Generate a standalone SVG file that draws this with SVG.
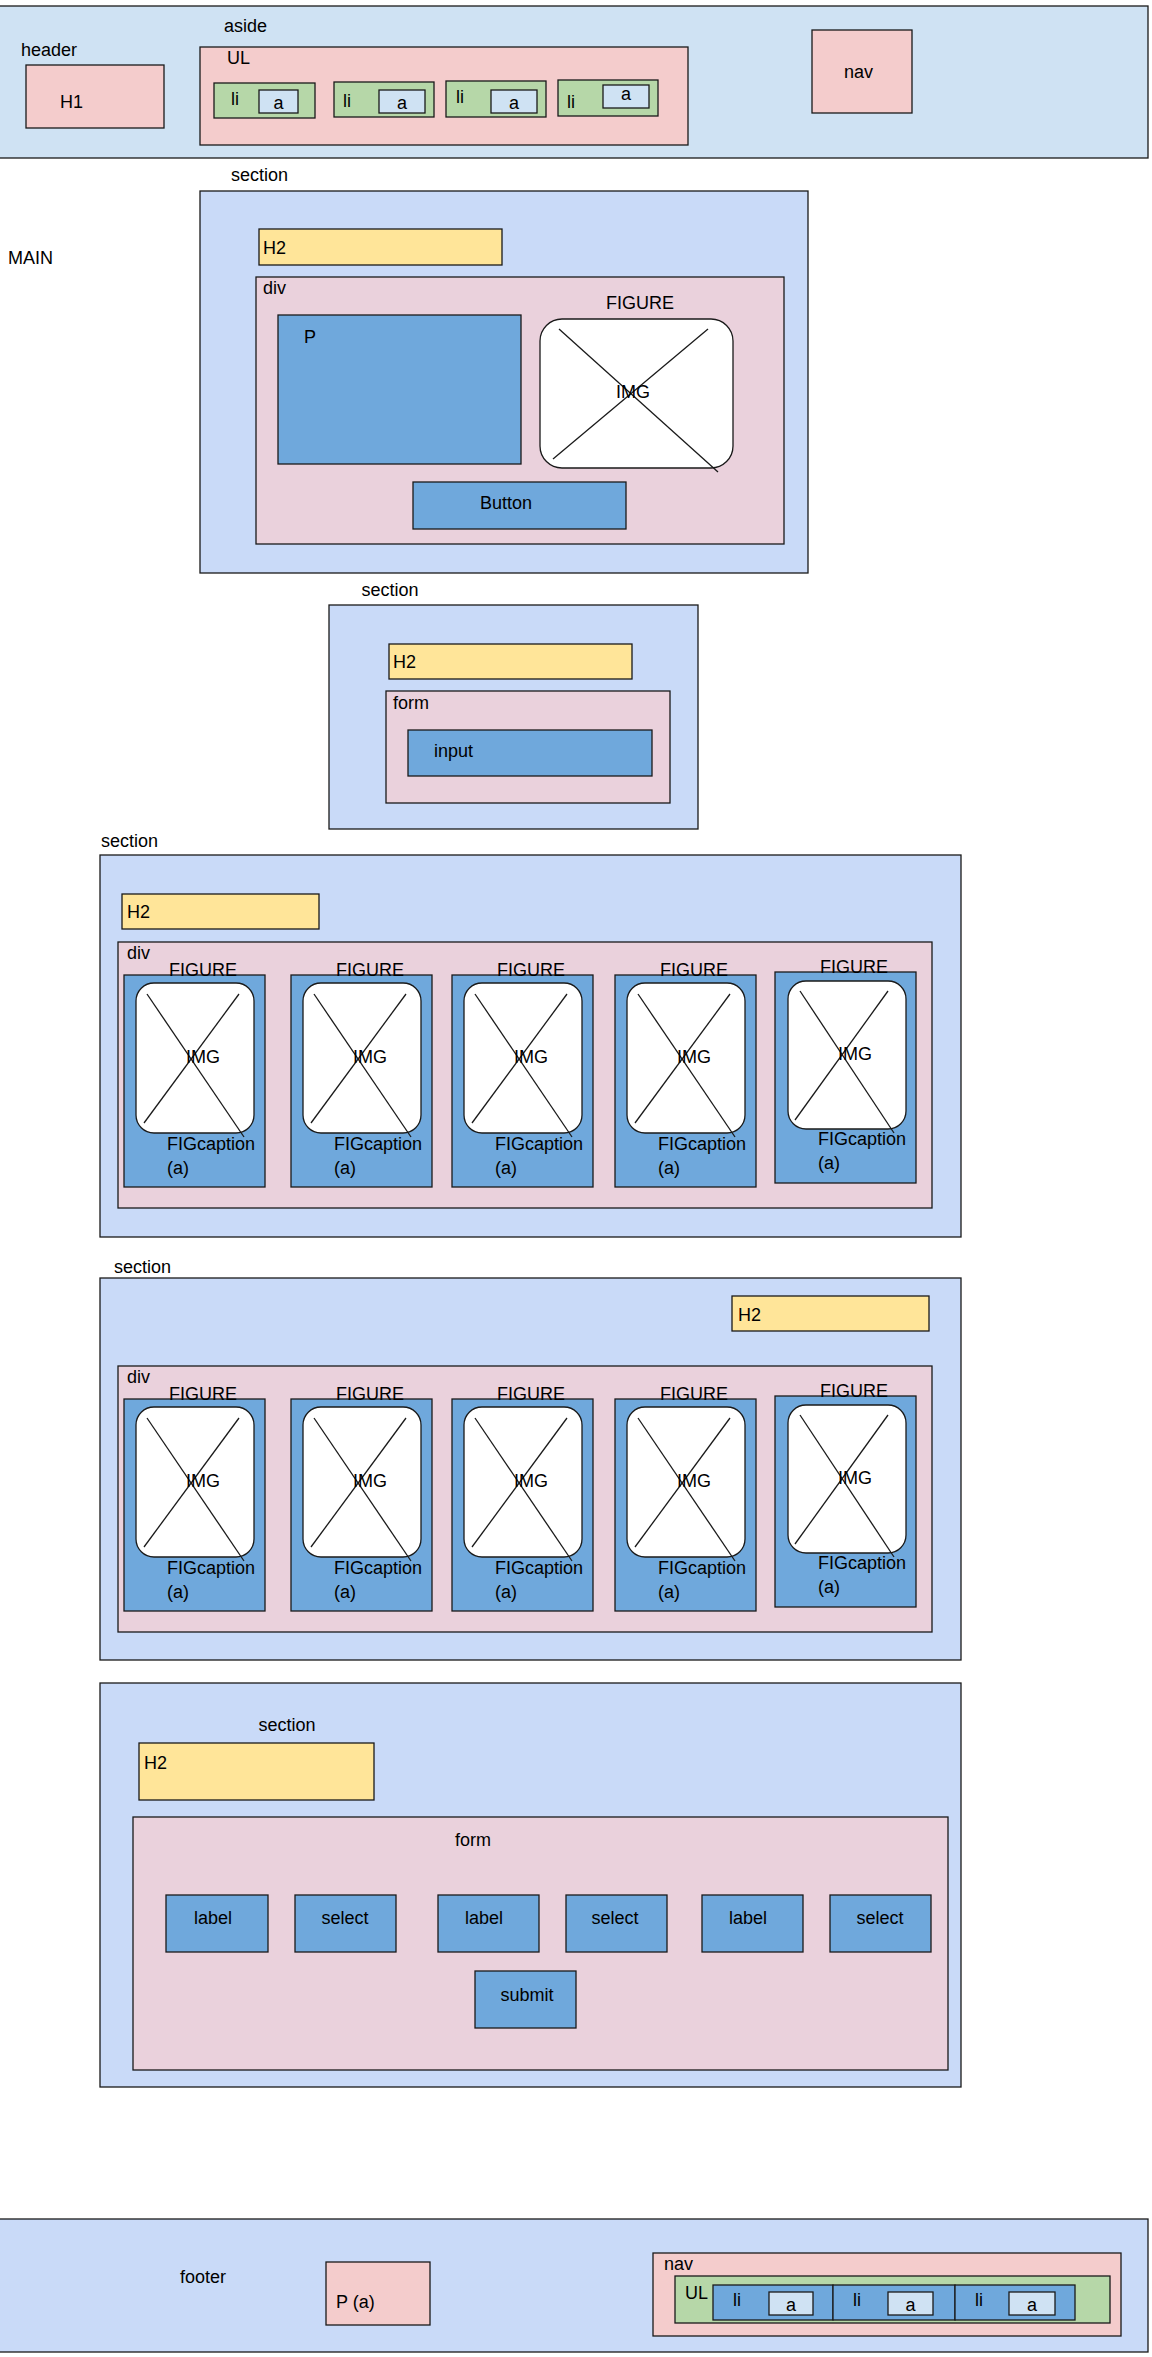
<svg xmlns="http://www.w3.org/2000/svg" width="1152" height="2357" viewBox="0 0 1152 2357">
<style>
rect, line { stroke:#1a1a1a; stroke-width:1.3; }
.hdr { fill:#cfe2f3; }
.sec { fill:#c9daf8; }
.pink { fill:#f4cccc; }
.mauve { fill:#ead1dc; }
.yel { fill:#ffe599; }
.blue { fill:#6fa8dc; }
.green { fill:#b6d7a8; }
.lb { fill:#cfe2f3; }
.white { fill:#ffffff; }
text { font-family:"Liberation Sans", Arial, sans-serif; font-size:18px; fill:#000; }
.c { text-anchor:middle; }
</style>

<!-- HEADER -->
<g id="header">
  <rect class="hdr" x="-1" y="6" width="1149" height="152"/>
  <text x="21" y="56">header</text>
  <g id="h1">
    <rect class="pink" x="26" y="65" width="138" height="63"/>
    <text x="60" y="108">H1</text>
  </g>
  <g id="aside">
    <text x="224" y="32">aside</text>
    <g id="aside-ul">
      <rect class="pink" x="200" y="47" width="488" height="98"/>
      <text x="227" y="64">UL</text>
      <g id="aside-li1">
        <rect class="green" x="214" y="83" width="101" height="35"/>
        <text x="231" y="105">li</text>
        <rect class="lb" x="259" y="90" width="39" height="23"/>
        <text class="c" x="278.5" y="109">a</text>
      </g>
      <g id="aside-li2">
        <rect class="green" x="334" y="82" width="100" height="35"/>
        <text x="343" y="107">li</text>
        <rect class="lb" x="379" y="90" width="46" height="23"/>
        <text class="c" x="402" y="109">a</text>
      </g>
      <g id="aside-li3">
        <rect class="green" x="446" y="81" width="100" height="36"/>
        <text x="456" y="103">li</text>
        <rect class="lb" x="491" y="90" width="46" height="23"/>
        <text class="c" x="514" y="109">a</text>
      </g>
      <g id="aside-li4">
        <rect class="green" x="558" y="80" width="100" height="36"/>
        <text x="567" y="108">li</text>
        <rect class="lb" x="603" y="85" width="46" height="23"/>
        <text class="c" x="626" y="100">a</text>
      </g>
    </g>
  </g>
  <g id="header-nav">
    <rect class="pink" x="812" y="30" width="100" height="83"/>
    <text x="844" y="78">nav</text>
  </g>
</g>

<!-- MAIN -->
<g id="main">
  <text x="8" y="264">MAIN</text>
</g>

<!-- SECTION 1 -->
<g id="section1">
  <text x="231" y="181">section</text>
  <rect class="sec" x="200" y="191" width="608" height="382"/>
  <g id="s1-h2">
    <rect class="yel" x="259" y="229" width="243" height="36"/>
    <text x="263" y="254">H2</text>
  </g>
  <g id="s1-div">
    <rect class="mauve" x="256" y="277" width="528" height="267"/>
    <text x="263" y="294">div</text>
    <g id="s1-p">
      <rect class="blue" x="278" y="315" width="243" height="149"/>
      <text x="304" y="343">P</text>
    </g>
    <g id="s1-figure">
      <text class="c" x="640" y="309">FIGURE</text>
      <rect class="white" x="540" y="319" width="193" height="149" rx="22"/>
      <line x1="559" y1="329" x2="718" y2="472"/>
      <line x1="708" y1="329" x2="553" y2="459"/>
      <text class="c" x="633" y="398">IMG</text>
    </g>
    <g id="s1-button">
      <rect class="blue" x="413" y="482" width="213" height="47"/>
      <text class="c" x="506" y="509">Button</text>
    </g>
  </g>
</g>

<!-- SECTION 2 -->
<g id="section2">
  <text class="c" x="390" y="596">section</text>
  <rect class="sec" x="329" y="605" width="369" height="224"/>
  <g id="s2-h2">
    <rect class="yel" x="389" y="644" width="243" height="35"/>
    <text x="393" y="668">H2</text>
  </g>
  <g id="s2-form">
    <rect class="mauve" x="386" y="691" width="284" height="112"/>
    <text x="393" y="709">form</text>
    <g id="s2-input">
      <rect class="blue" x="408" y="730" width="244" height="46"/>
      <text x="434" y="757">input</text>
    </g>
  </g>
</g>

<!-- SECTION 3 -->
<g id="section3">
  <text x="101" y="847">section</text>
  <rect class="sec" x="100" y="855" width="861" height="382"/>
  <g id="s3-h2">
    <rect class="yel" x="122" y="894" width="197" height="35"/>
    <text x="127" y="918">H2</text>
  </g>
  <g id="s3-div">
    <rect class="mauve" x="118" y="942" width="814" height="266"/>
    <text x="127" y="959">div</text>
    <g id="s3-fig1" transform="translate(124,975)">
      <rect class="blue" width="141" height="212"/>
      <text class="c" x="79" y="1">FIGURE</text>
      <rect class="white" x="12" y="8" width="118" height="150" rx="18"/>
      <line x1="23" y1="19" x2="120" y2="162"/>
      <line x1="115" y1="19" x2="20" y2="148"/>
      <text class="c" x="79" y="88">IMG</text>
      <text x="43" y="175">FIGcaption</text>
      <text x="43" y="199">(a)</text>
    </g>
    <g id="s3-fig2" transform="translate(291,975)">
      <rect class="blue" width="141" height="212"/>
      <text class="c" x="79" y="1">FIGURE</text>
      <rect class="white" x="12" y="8" width="118" height="150" rx="18"/>
      <line x1="23" y1="19" x2="120" y2="162"/>
      <line x1="115" y1="19" x2="20" y2="148"/>
      <text class="c" x="79" y="88">IMG</text>
      <text x="43" y="175">FIGcaption</text>
      <text x="43" y="199">(a)</text>
    </g>
    <g id="s3-fig3" transform="translate(452,975)">
      <rect class="blue" width="141" height="212"/>
      <text class="c" x="79" y="1">FIGURE</text>
      <rect class="white" x="12" y="8" width="118" height="150" rx="18"/>
      <line x1="23" y1="19" x2="120" y2="162"/>
      <line x1="115" y1="19" x2="20" y2="148"/>
      <text class="c" x="79" y="88">IMG</text>
      <text x="43" y="175">FIGcaption</text>
      <text x="43" y="199">(a)</text>
    </g>
    <g id="s3-fig4" transform="translate(615,975)">
      <rect class="blue" width="141" height="212"/>
      <text class="c" x="79" y="1">FIGURE</text>
      <rect class="white" x="12" y="8" width="118" height="150" rx="18"/>
      <line x1="23" y1="19" x2="120" y2="162"/>
      <line x1="115" y1="19" x2="20" y2="148"/>
      <text class="c" x="79" y="88">IMG</text>
      <text x="43" y="175">FIGcaption</text>
      <text x="43" y="199">(a)</text>
    </g>
    <g id="s3-fig5" transform="translate(775,972)">
      <rect class="blue" width="141" height="211"/>
      <text class="c" x="79" y="1">FIGURE</text>
      <rect class="white" x="13" y="9" width="118" height="148" rx="18"/>
      <line x1="25" y1="19" x2="119" y2="161"/>
      <line x1="113" y1="19" x2="20" y2="148"/>
      <text class="c" x="80" y="88">IMG</text>
      <text x="43" y="173">FIGcaption</text>
      <text x="43" y="197">(a)</text>
    </g>
  </g>
</g>

<!-- SECTION 4 -->
<g id="section4">
  <text x="114" y="1273">section</text>
  <rect class="sec" x="100" y="1278" width="861" height="382"/>
  <g id="s4-h2">
    <rect class="yel" x="732" y="1296" width="197" height="35"/>
    <text x="738" y="1321">H2</text>
  </g>
  <g id="s4-div">
    <rect class="mauve" x="118" y="1366" width="814" height="266"/>
    <text x="127" y="1383">div</text>
    <g id="s4-fig1" transform="translate(124,1399)">
      <rect class="blue" width="141" height="212"/>
      <text class="c" x="79" y="1">FIGURE</text>
      <rect class="white" x="12" y="8" width="118" height="150" rx="18"/>
      <line x1="23" y1="19" x2="120" y2="162"/>
      <line x1="115" y1="19" x2="20" y2="148"/>
      <text class="c" x="79" y="88">IMG</text>
      <text x="43" y="175">FIGcaption</text>
      <text x="43" y="199">(a)</text>
    </g>
    <g id="s4-fig2" transform="translate(291,1399)">
      <rect class="blue" width="141" height="212"/>
      <text class="c" x="79" y="1">FIGURE</text>
      <rect class="white" x="12" y="8" width="118" height="150" rx="18"/>
      <line x1="23" y1="19" x2="120" y2="162"/>
      <line x1="115" y1="19" x2="20" y2="148"/>
      <text class="c" x="79" y="88">IMG</text>
      <text x="43" y="175">FIGcaption</text>
      <text x="43" y="199">(a)</text>
    </g>
    <g id="s4-fig3" transform="translate(452,1399)">
      <rect class="blue" width="141" height="212"/>
      <text class="c" x="79" y="1">FIGURE</text>
      <rect class="white" x="12" y="8" width="118" height="150" rx="18"/>
      <line x1="23" y1="19" x2="120" y2="162"/>
      <line x1="115" y1="19" x2="20" y2="148"/>
      <text class="c" x="79" y="88">IMG</text>
      <text x="43" y="175">FIGcaption</text>
      <text x="43" y="199">(a)</text>
    </g>
    <g id="s4-fig4" transform="translate(615,1399)">
      <rect class="blue" width="141" height="212"/>
      <text class="c" x="79" y="1">FIGURE</text>
      <rect class="white" x="12" y="8" width="118" height="150" rx="18"/>
      <line x1="23" y1="19" x2="120" y2="162"/>
      <line x1="115" y1="19" x2="20" y2="148"/>
      <text class="c" x="79" y="88">IMG</text>
      <text x="43" y="175">FIGcaption</text>
      <text x="43" y="199">(a)</text>
    </g>
    <g id="s4-fig5" transform="translate(775,1396)">
      <rect class="blue" width="141" height="211"/>
      <text class="c" x="79" y="1">FIGURE</text>
      <rect class="white" x="13" y="9" width="118" height="148" rx="18"/>
      <line x1="25" y1="19" x2="119" y2="161"/>
      <line x1="113" y1="19" x2="20" y2="148"/>
      <text class="c" x="80" y="88">IMG</text>
      <text x="43" y="173">FIGcaption</text>
      <text x="43" y="197">(a)</text>
    </g>
  </g>
</g>

<!-- SECTION 5 -->
<g id="section5">
  <rect class="sec" x="100" y="1683" width="861" height="404"/>
  <text class="c" x="287" y="1731">section</text>
  <g id="s5-h2">
    <rect class="yel" x="139" y="1743" width="235" height="57"/>
    <text x="144" y="1769">H2</text>
  </g>
  <g id="s5-form">
    <rect class="mauve" x="133" y="1817" width="815" height="253"/>
    <text class="c" x="473" y="1846">form</text>
    <g id="s5-label1"><rect class="blue" x="166" y="1895" width="102" height="57"/><text class="c" x="213" y="1924">label</text></g>
    <g id="s5-select1"><rect class="blue" x="295" y="1895" width="101" height="57"/><text class="c" x="345" y="1924">select</text></g>
    <g id="s5-label2"><rect class="blue" x="438" y="1895" width="101" height="57"/><text class="c" x="484" y="1924">label</text></g>
    <g id="s5-select2"><rect class="blue" x="566" y="1895" width="101" height="57"/><text class="c" x="615" y="1924">select</text></g>
    <g id="s5-label3"><rect class="blue" x="702" y="1895" width="101" height="57"/><text class="c" x="748" y="1924">label</text></g>
    <g id="s5-select3"><rect class="blue" x="830" y="1895" width="101" height="57"/><text class="c" x="880" y="1924">select</text></g>
    <g id="s5-submit"><rect class="blue" x="475" y="1971" width="101" height="57"/><text class="c" x="527" y="2001">submit</text></g>
  </g>
</g>

<!-- FOOTER -->
<g id="footer">
  <rect class="sec" x="-1" y="2219" width="1149" height="133"/>
  <text x="180" y="2283">footer</text>
  <g id="footer-p">
    <rect class="pink" x="326" y="2262" width="104" height="63"/>
    <text x="336" y="2308">P (a)</text>
  </g>
  <g id="footer-nav">
    <rect class="pink" x="653" y="2253" width="468" height="83"/>
    <text x="664" y="2270">nav</text>
    <g id="footer-ul">
      <rect class="green" x="675" y="2276" width="435" height="47"/>
      <text x="685" y="2299">UL</text>
      <g id="footer-li1">
        <rect class="blue" x="713" y="2285" width="120" height="35"/>
        <text x="733" y="2306">li</text>
        <rect class="lb" x="769" y="2292" width="44" height="23"/>
        <text class="c" x="791" y="2311">a</text>
      </g>
      <g id="footer-li2">
        <rect class="blue" x="833" y="2285" width="122" height="35"/>
        <text x="853" y="2306">li</text>
        <rect class="lb" x="888" y="2292" width="45" height="23"/>
        <text class="c" x="910.5" y="2311">a</text>
      </g>
      <g id="footer-li3">
        <rect class="blue" x="955" y="2285" width="120" height="35"/>
        <text x="975" y="2306">li</text>
        <rect class="lb" x="1009" y="2292" width="46" height="23"/>
        <text class="c" x="1032" y="2311">a</text>
      </g>
    </g>
  </g>
</g>

<g id="connectors"></g>
</svg>
